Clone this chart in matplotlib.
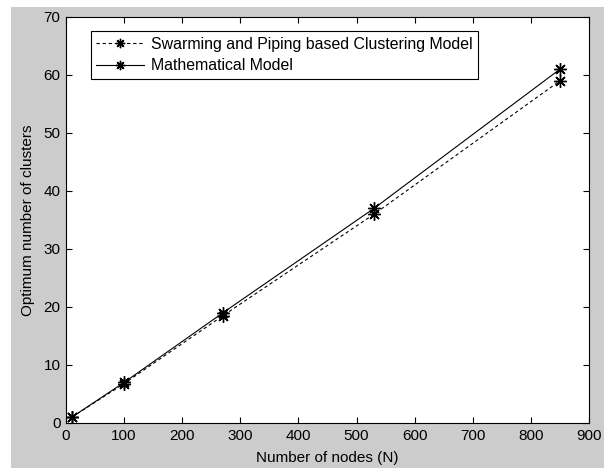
import matplotlib.pyplot as plt
from matplotlib.patches import Rectangle

# datos
nodos = [10, 100, 270, 530, 850]
swarming = [1, 6.8, 18.5, 36, 59]
matematico = [1, 7, 19, 37, 61]

plt.rcParams['font.family'] = ['Liberation Sans', 'DejaVu Sans']

fig = plt.figure(figsize=(6.04, 4.68), dpi=100, facecolor='white')
# fondo gris tipo MATLAB (con franja blanca arriba e izquierda)
fig.patches.append(Rectangle((11 / 604, 0), 1 - 11 / 604, 1 - 7 / 468,
                             transform=fig.transFigure, facecolor='#cccccc',
                             edgecolor='none', zorder=-10))

asterisco = (8, 2, 0)  # como el '*' de MATLAB

ax = fig.add_axes([66 / 604, 45 / 468, 523 / 604, 406 / 468])
ax.plot(nodos, swarming, 'k--', marker=asterisco, linewidth=0.8, markersize=9,
        markeredgewidth=1.0, dashes=(3, 2.5),
        label='Swarming and Piping based Clustering Model')
ax.plot(nodos, matematico, 'k-', marker=asterisco, linewidth=0.8, markersize=9,
        markeredgewidth=1.0, label='Mathematical Model')

ax.set_xlim(0, 900)
ax.set_ylim(0, 70)
ax.set_xticks(range(0, 901, 100))
ax.set_yticks(range(0, 71, 10))
ax.tick_params(direction='in', top=True, right=True, length=4, width=0.8,
               labelsize=11, pad=4)
for s in ax.spines.values():
    s.set_linewidth(0.8)

ax.set_xlabel('Number of nodes (N)', fontsize=11, labelpad=6)
ax.set_ylabel('Optimum number of clusters', fontsize=11, labelpad=6)

leg = ax.legend(loc='upper left', bbox_to_anchor=(0.047, 0.965), fontsize=11.4,
                numpoints=1, handlelength=3.0, fancybox=False, framealpha=1,
                edgecolor='black', borderpad=0.35, labelspacing=0.4,
                handletextpad=0.45, borderaxespad=0, markerscale=0.75)
leg.get_frame().set_linewidth(0.8)

plt.savefig('out.png', dpi=100)
